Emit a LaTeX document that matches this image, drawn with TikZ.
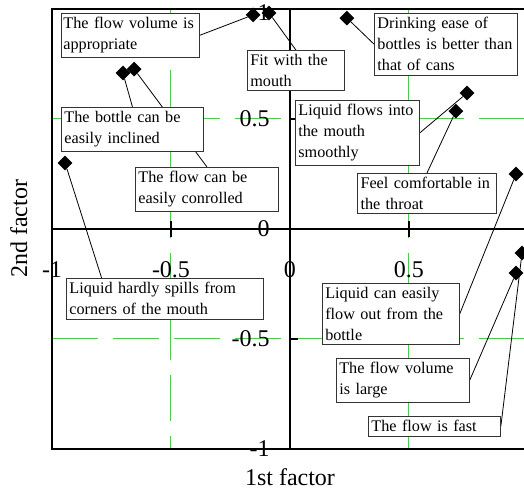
\documentclass[tikz,border=0pt]{standalone}
\usepackage{fontspec}
\setmainfont{Liberation Serif}
\usepackage{tikz}
\usetikzlibrary{shapes.geometric}
\usetikzlibrary{calc}
\definecolor{gridgreen}{RGB}{0,255,0}
\pgfdeclarelayer{back}
\pgfsetlayers{back,main}

\begin{document}
\begin{tikzpicture}[x=238bp,y=220bp,-,semithick]
	\tikzstyle{pt}=[diamond, fill=black, inner sep=0pt, minimum size=15bp]
	\tikzstyle{lbl}=[draw=black!80, fill=white, line width=0.8bp, anchor=north west, inner xsep=3bp, inner ysep=4bp, align=left, font=\fontsize{16.2bp}{21bp}\selectfont]
	\tikzstyle{tck}=[inner sep=0pt, font=\fontsize{24bp}{28bp}\selectfont]
	\tikzstyle{gline}=[color=gridgreen, line width=1bp, dash pattern=on 46bp off 15bp]
	\useasboundingbox (-1.2185,-1.1864) rectangle (0.9832,1.0409);

	% points
	\node[pt] (vol)   at (-0.155, 0.973) {};
	\node[pt] (fit)   at (-0.088, 0.982) {};
	\node[pt] (ease)  at (0.239, 0.959)  {};
	\node[pt] (incl)  at (-0.702, 0.709) {};
	\node[pt] (ctrl)  at (-0.655, 0.727) {};
	\node[pt] (into)  at (0.744, 0.618)  {};
	\node[pt] (thr)   at (0.697, 0.536)  {};
	\node[pt] (out)   at (0.950, 0.250)  {};
	\node[pt] (large) at (0.950, -0.200) {};
	\node[pt] (fast)  at (0.975, -0.109) {};
	\node[pt] (spill) at (-0.945, 0.300) {};

	% labels
	\node[lbl, text width=134bp, inner xsep=2bp] (volT) at (-0.962, 0.982) {The flow volume is\\appropriate};
	\node[lbl, text width=91bp]  (fitT)   at (-0.181, 0.814) {Fit with the\\mouth};
	\node[lbl, text width=137bp] (easeT)  at (0.353, 0.982)  {Drinking ease of\\bottles is better than\\that of cans};
	\node[lbl, text width=136bp] (inclT)  at (-0.962, 0.555) {The bottle can be\\easily inclined};
	\node[lbl, text width=137bp] (ctrlT)  at (-0.651, 0.282) {The flow can be\\easily conrolled};
	\node[lbl, text width=118bp] (intoT)  at (0.021, 0.586)  {Liquid flows into\\the mouth\\smoothly};
	\node[lbl, text width=133bp] (thrT)   at (0.282, 0.255)  {Feel comfortable in\\the throat};
	\node[lbl, text width=191bp] (spillT) at (-0.941, -0.223) {Liquid hardly spills from\\corners of the mouth};
	\node[lbl, text width=131bp] (outT)   at (0.134, -0.245) {Liquid can easily\\flow out from the\\bottle};
	\node[lbl, text width=127bp] (largeT) at (0.193, -0.586) {The flow volume\\is large};
	\node[lbl, text width=126bp] (fastT)  at (0.328, -0.850) {The flow is fast};

	% axes
	\foreach \y/\t in {0.5/0.5,0/0,-0.5/-0.5,-1/-1}
		\node[tck, anchor=east] at ([xshift=-20bp]0,\y) {\t};
	\node[tck, anchor=east] (top) at ([xshift=-20bp,yshift=-4bp]0,1) {1};
	\foreach \x in {-1,-0.5,0,0.5}
		\node[tck] at ([yshift=-41bp]\x,0) {\x};
	\node[tck] (xlab) at (0,-1.127) {1st factor};
	\node[tck, rotate=90] (ylab) at (-1.139,0) {2nd factor};

	\begin{pgfonlayer}{back}
		\foreach \x in {-0.5,0.5}
			\draw[gline] (\x,1) -- (\x,-1);
		\foreach \y in {0.5,-0.5}
			\draw[gline] (-1,\y) -- (1,\y);
		\draw[line width=1.2bp] (-1,-1) rectangle (1,1);
		\draw[line width=1.2bp] (-1,0) -- (1,0);
		\draw[line width=1.2bp] (0,-1) -- (0,1);
		\foreach \x in {-1,-0.5,0.5}
			\draw[line width=1.2bp] (\x,0) ++(0pt,-8bp) -- ++(0pt,16bp);
		\foreach \y in {-1,-0.5,0.5,1}
			\draw[line width=1.2bp] (0,\y) -- ++(8bp,0pt);
		\path[line width=0.8bp]
			(vol) edge (volT.east)
			(fit) edge (fitT.north)
			(ease) edge (easeT.west)
			(incl) edge (inclT.north)
			(ctrl) edge (ctrlT.north)
			(into) edge (intoT.east)
			(thr) edge (thrT.north)
			(out) edge (outT.east)
			(large) edge (largeT.east)
			(fast) edge (fastT.east)
			(spill) edge ($(spillT.north west)!0.18!(spillT.north east)$);
	\end{pgfonlayer}
\end{tikzpicture}
\end{document}
